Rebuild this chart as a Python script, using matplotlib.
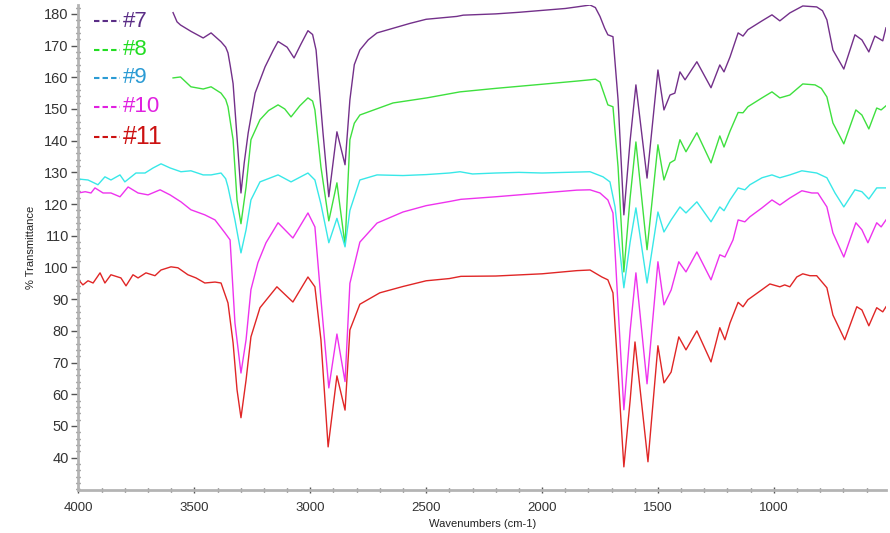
import matplotlib
matplotlib.use("Agg")
import matplotlib.pyplot as plt
from matplotlib.ticker import MultipleLocator

# wavenumbers (cm-1) and % transmittance
w7 = [3592, 3575, 3560, 3515, 3462, 3428, 3385, 3365, 3355, 3345, 3333, 3312, 3299, 3285, 3268, 3238, 3195, 3160, 3139, 3100, 3070,
      3040, 3010, 2990, 2975, 2945, 2920, 2885, 2850, 2829, 2810, 2786, 2750, 2712, 2570, 2500, 2368, 2340, 2200, 2100, 2000,
      1900, 1850, 1793, 1770, 1750, 1730, 1716, 1694, 1672, 1647, 1620, 1595, 1547, 1500, 1474, 1448, 1427, 1405,
      1383, 1332, 1271, 1233, 1215, 1189, 1154, 1133, 1112, 1051, 1008, 974, 931, 875, 815, 790, 771,
      745, 698, 650, 620, 590, 564, 530, 516]
t7 = [180.4, 177.5, 176.5, 174.5, 172.4, 174.0, 171.2, 169.5, 167.7, 163.5, 158.0, 137.0, 123.5, 133.0, 142.4, 155.0, 163.3, 168.5, 171.3, 169.5, 166.1,
      170.5, 174.7, 173.5, 168.6, 142.4, 122.3, 142.8, 132.4, 152.9, 164.0, 168.6, 171.8, 174.0, 177.0, 178.3, 179.2, 179.6, 180.0, 180.5, 181.1,
      181.7, 182.2, 182.8, 182.0, 179.2, 175.5, 173.4, 172.8, 152.9, 116.6, 140.0, 157.6, 128.2, 162.3, 149.7, 154.4, 155.0, 161.7,
      159.2, 164.9, 156.7, 163.9, 161.7, 166.4, 174.0, 173.0, 175.0, 177.8, 179.7, 177.8, 180.3, 182.5, 182.2, 181.0, 178.1,
      168.6, 162.6, 173.4, 171.8, 168.0, 173.0, 171.5, 175.6]

w8 = [3592, 3560, 3515, 3462, 3428, 3385, 3365, 3355, 3333, 3316, 3299, 3277, 3256, 3217, 3180, 3139, 3110, 3083,
      3045, 3010, 2990, 2980, 2954, 2920, 2885, 2850, 2829, 2810, 2786, 2643, 2497, 2354, 2200, 2000, 1850, 1793,
      1770, 1750, 1716, 1694, 1672, 1647, 1620, 1595, 1547, 1500, 1474, 1448, 1427, 1405, 1379, 1332, 1271,
      1233, 1215, 1189, 1154, 1133, 1112, 1051, 1008, 974, 931, 875, 822, 795, 771, 745, 698, 646,
      620, 590, 556, 537, 516]
t8 = [159.8, 160.1, 157.0, 156.3, 157.0, 155.0, 153.0, 150.7, 140.3, 121.3, 113.8, 125.4, 140.3, 146.6, 149.5, 151.3, 150.0, 147.5,
      151.0, 153.5, 152.5, 149.7, 131.7, 114.7, 126.7, 107.0, 140.3, 145.5, 148.1, 151.9, 153.5, 155.4, 156.5, 157.8, 158.8, 159.2,
      159.4, 158.5, 151.3, 150.7, 131.7, 98.6, 122.0, 139.6, 105.6, 138.7, 127.6, 133.0, 133.9, 140.3, 136.5, 142.5, 133.0,
      141.5, 138.0, 143.0, 148.9, 148.8, 150.7, 153.5, 155.4, 153.5, 154.4, 157.9, 157.6, 156.5, 153.8, 145.6, 139.0, 149.7,
      148.1, 143.7, 150.3, 149.7, 151.0]

w9 = [4000, 3959, 3916, 3886, 3860, 3821, 3800, 3752, 3713, 3678, 3644, 3605, 3558, 3515, 3462,
      3428, 3385, 3365, 3355, 3325, 3299, 3277, 3256, 3217, 3139, 3083, 3010, 2980, 2954, 2920, 2885,
      2850, 2829, 2786, 2712, 2600, 2500, 2400, 2354, 2300, 2200, 2100, 2000, 1900, 1793, 1737,
      1707, 1685, 1647, 1620, 1595, 1547, 1500, 1474, 1443, 1405, 1379, 1332, 1271, 1233, 1215, 1189,
      1154, 1125, 1103, 1051, 1008, 974, 931, 879, 815, 771, 736, 698, 650, 620, 590, 556, 516]
t9 = [127.9, 127.6, 126.1, 128.6, 127.6, 129.2, 127.0, 129.8, 129.8, 131.4, 132.7, 131.4, 130.2, 130.5, 129.2,
      129.2, 129.8, 128.0, 125.4, 115.0, 104.6, 111.9, 121.3, 127.0, 129.2, 127.0, 129.8, 127.6, 120.0, 107.8, 115.5,
      106.5, 118.0, 127.6, 129.2, 129.0, 129.3, 129.8, 130.2, 129.5, 129.8, 130.0, 129.8, 130.0, 130.2, 128.6,
      127.0, 119.1, 93.6, 108.0, 118.8, 95.1, 117.5, 111.2, 115.0, 119.1, 117.2, 120.7, 114.4, 119.1, 117.9, 121.3,
      125.1, 124.5, 126.1, 128.3, 129.2, 128.3, 129.2, 130.5, 129.8, 128.3, 123.5, 119.1, 124.5, 123.9, 121.6, 125.1, 125.1]

w10 = [4000, 3971, 3946, 3929, 3894, 3860, 3821, 3786, 3743, 3700, 3648, 3605, 3558, 3515, 3455,
       3411, 3368, 3346, 3325, 3299, 3277, 3256, 3226, 3191, 3139, 3075, 3010, 2980, 2954, 2920,
       2885, 2850, 2829, 2786, 2712, 2600, 2500, 2400, 2350, 2200, 2000, 1850, 1793, 1750, 1716,
       1694, 1672, 1647, 1620, 1595, 1547, 1500, 1474, 1443, 1410, 1379, 1332, 1271, 1233, 1211, 1176,
       1154, 1125, 1103, 1051, 1008, 974, 931, 879, 836, 810, 771, 745, 698, 646, 620, 594, 556, 537, 516]
t10 = [123.5, 123.9, 123.5, 125.1, 123.5, 123.5, 122.3, 125.4, 123.5, 122.9, 124.5, 122.9, 120.7, 118.2, 116.6,
       115.0, 110.9, 108.7, 82.5, 66.7, 77.2, 93.0, 101.5, 107.8, 114.1, 109.3, 117.2, 112.8, 90.0, 62.0,
       79.0, 64.0, 95.0, 108.0, 114.0, 117.5, 119.5, 120.8, 121.5, 122.3, 123.5, 124.4, 124.5, 123.5, 121.3,
       117.2, 87.6, 55.1, 80.0, 98.3, 63.3, 101.8, 88.2, 92.9, 101.8, 98.6, 104.9, 96.1, 104.0, 103.3, 108.7,
       115.0, 114.4, 116.0, 118.8, 121.3, 119.7, 121.9, 124.2, 123.5, 123.5, 119.1, 110.9, 103.3, 114.1, 111.9, 107.8, 114.1, 112.8, 115.0]

w11 = [4000, 3981, 3959, 3937, 3907, 3886, 3860, 3817, 3795, 3765, 3743, 3709, 3670, 3644, 3601,
       3571, 3528, 3493, 3455, 3411, 3385, 3355, 3333, 3316, 3299, 3277, 3256, 3217, 3144, 3075,
       3010, 2980, 2954, 2923, 2885, 2850, 2829, 2786, 2700, 2600, 2500, 2400, 2350, 2200, 2000,
       1850, 1793, 1742, 1716, 1694, 1672, 1647, 1620, 1599, 1543, 1500, 1474, 1443, 1410, 1379, 1332,
       1271, 1233, 1211, 1189, 1154, 1133, 1112, 1051, 1017, 974, 953, 931, 901, 875, 844, 815,
       771, 745, 694, 642, 620, 590, 556, 530, 516]
t11 = [96.1, 94.5, 95.8, 95.1, 98.3, 95.1, 97.7, 96.7, 94.2, 97.7, 96.7, 98.3, 97.4, 99.2, 100.2,
       99.9, 97.7, 96.7, 95.1, 95.4, 95.1, 88.8, 76.2, 61.4, 52.6, 64.5, 78.1, 87.3, 93.9, 89.1,
       97.0, 93.9, 77.2, 43.4, 65.8, 55.0, 80.3, 88.4, 92.0, 94.0, 95.8, 96.5, 97.2, 97.3, 98.0,
       99.0, 99.2, 97.0, 96.1, 92.0, 66.7, 37.1, 58.0, 76.5, 38.7, 75.3, 63.6, 67.0, 78.1, 74.0, 80.0,
       70.2, 81.0, 77.2, 82.5, 89.0, 87.6, 89.8, 93.0, 94.8, 93.9, 94.5, 93.9, 97.0, 98.0, 97.4, 97.4,
       93.6, 85.0, 77.2, 87.6, 86.6, 81.6, 87.3, 86.0, 87.6]

names = ["#7", "#8", "#9", "#10", "#11"]
line_colors = ["#73308a", "#3ee03e", "#38e8e8", "#ee33ee", "#e02626"]
text_colors = ["#5a2d86", "#22dd22", "#2b9bd4", "#e020e0", "#cc1111"]

plt.rcParams["font.family"] = ["Liberation Sans", "DejaVu Sans"]

fig = plt.figure(figsize=(8.9, 5.33), dpi=100)
ax = fig.add_axes([0.0882, 0.0807, 0.9073, 0.9099])

for w, t, c in zip([w7, w8, w9, w10, w11], [t7, t8, t9, t10, t11], line_colors):
    ax.plot(w, t, color=c, linewidth=1.0)

ax.set_xlim(4000, 516)
ax.set_ylim(29.8, 182.8)

ax.xaxis.set_major_locator(MultipleLocator(500))
ax.xaxis.set_minor_locator(MultipleLocator(100))
ax.yaxis.set_major_locator(MultipleLocator(10))
ax.yaxis.set_minor_locator(MultipleLocator(2))
ax.set_yticks(range(40, 181, 10))

for s in ["top", "right"]:
    ax.spines[s].set_visible(False)
for s in ["left", "bottom"]:
    ax.spines[s].set_color("#b4b4b4")
    ax.spines[s].set_linewidth(2)

ax.tick_params(axis="y", which="major", direction="out", length=5, width=1, color="#555555",
               labelsize=10.5, labelcolor="#333333", pad=2)
ax.tick_params(axis="y", which="minor", direction="inout", length=3, width=1, color="#555555")
ax.tick_params(axis="x", which="major", direction="inout", length=5, width=1, color="#555555",
               labelsize=9.5, labelcolor="#333333", pad=6)
ax.tick_params(axis="x", which="minor", direction="inout", length=3, width=1, color="#555555")

ax.set_xlabel("Wavenumbers (cm-1)", fontsize=8, color="#222222", labelpad=4)
ax.set_ylabel("% Transmittance", fontsize=8, color="#222222", labelpad=6)

# legend drawn as coloured dashes + text
ys = [0.966, 0.908, 0.850, 0.790, 0.727]
for name, y, c in zip(names, ys, text_colors):
    ax.plot([0.0195, 0.0515], [y, y], transform=ax.transAxes, color=c,
            linestyle=(0, (2.6, 1.5)), linewidth=1.5)
    ax.text(0.0555, y, name, transform=ax.transAxes, color=c,
            fontsize=16 if name != "#11" else 18, va="center", ha="left")

fig.savefig("out.png", dpi=100)
